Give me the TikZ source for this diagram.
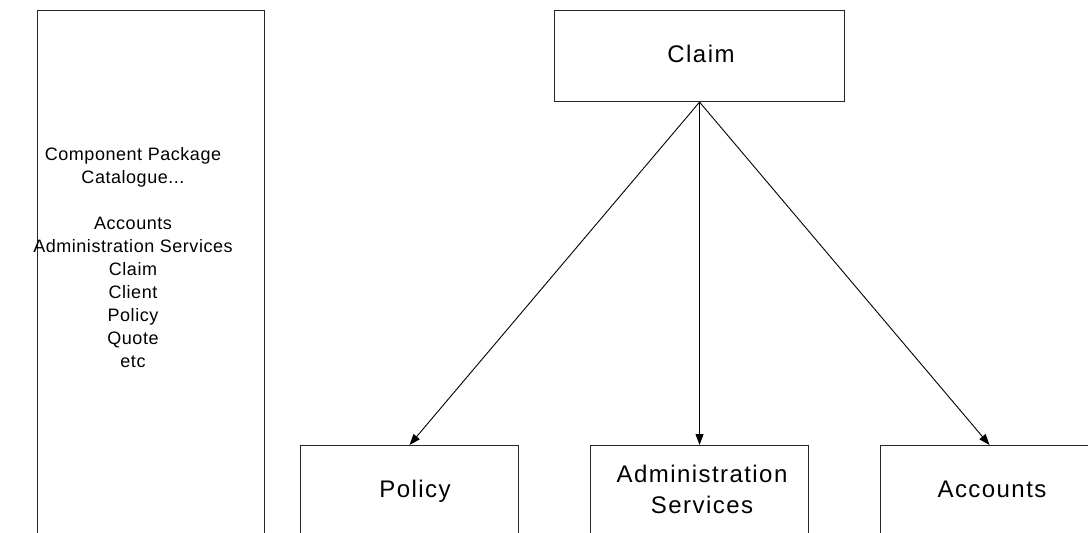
\documentclass[tikz,border=0pt]{standalone}
\usepackage{fontspec}
\setmainfont{Liberation Sans}
\newfontfamily\lblfont[LetterSpace=6]{Liberation Sans}
\newfontfamily\catfont[LetterSpace=3]{Liberation Sans}
\usetikzlibrary{arrows.meta}
\begin{document}
\begin{tikzpicture}[x=1pt,y=-1pt,
  box/.style={draw=black!85, line width=1.1pt, fill=white, inner sep=0pt,
    anchor=north west, minimum width=218pt, minimum height=130pt},
  lbl/.style={inner sep=0pt, align=center, font=\lblfont\fontsize{24}{31}\selectfont},
  cat/.style={inner sep=0pt, align=center, font=\catfont\fontsize{18}{23}\selectfont},
  dep/.style={draw=black, line width=0.9pt, -{Triangle[length=11pt,width=8pt]}}]
  \useasboundingbox (0,0) rectangle (1088,533);
  \clip (0,0) rectangle (1088,533);
  \fill[white] (0,0) rectangle (1088,533);

  % catalogue panel on the left
  \node[box, minimum width=227pt, minimum height=560pt] (catalogue) at (37,10) {};
  \node[cat] (cattext) at (133,258) {Component Package\\Catalogue...\\[23pt]Accounts\\Administration Services\\Claim\\Client\\Policy\\Quote\\etc};

  % component packages
  \node[box, minimum width=290pt, minimum height=91pt] (claim) at (554,10) {};
  \node[lbl] (claimtext) at (701,54.3) {Claim};

  \node[box] (policy) at (300,445) {};
  \node[lbl] (policytext) at (415,491) {Policy};

  \node[box] (admin) at (590,445) {};
  \node[lbl] (admintext) at (702,489.5) {Administration\\Services};

  \node[box] (accounts) at (880,445) {};
  \node[lbl] (accountstext) at (992,489.4) {Accounts};

  % dependencies
  \draw[dep] (claim.south) -- (policy.north);
  \draw[dep] (claim.south) -- (admin.north);
  \draw[dep] (claim.south) -- (accounts.north);
\end{tikzpicture}
\end{document}
